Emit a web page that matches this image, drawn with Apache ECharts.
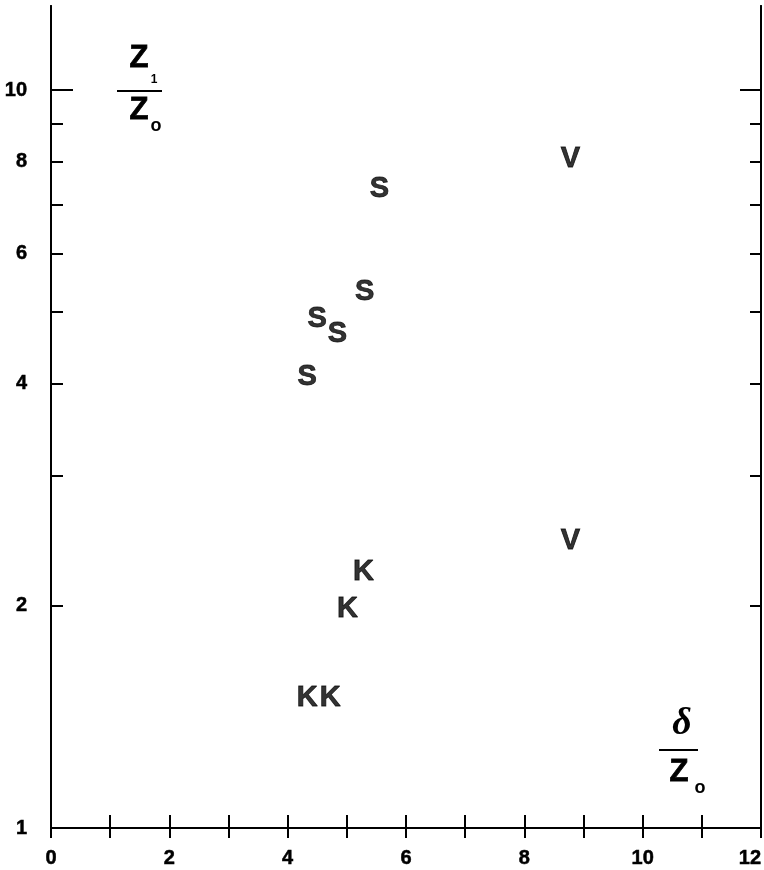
<!DOCTYPE html>
<html>
<head>
<meta charset="utf-8">
<script src="https://cdn.jsdelivr.net/npm/echarts@6/dist/echarts.min.js"></script>
<style>
  html, body { margin: 0; padding: 0; background: #fff; }
  #chart { width: 764px; height: 870px; }
</style>
</head>
<body>
<div id="chart"></div>
<script>
// points (x = delta/Z0, y = Z1/Z0)
const sX = [5.55, 5.30, 4.50, 4.84, 4.33];
const sY = [7.34, 5.32, 4.89, 4.67, 4.08];
const kX = [5.28, 5.01, 4.33, 4.72];
const kY = [2.22, 1.98, 1.50, 1.50];
const vX = [8.78, 8.78];
const vY = [8.06, 2.45];

const yTickVals = [2, 3, 4, 5, 6, 7, 8, 9];
const yLabelVals = [1, 2, 4, 6, 8, 10];
const yMax = 13;

const lg = v => Math.log10(v);
const font = "'Liberation Sans', Arial, sans-serif";

function pts(xs, ys) {
  return xs.map((x, i) => [x, lg(ys[i])]);
}

function letterSeries(letter, xs, ys) {
  return {
    type: 'scatter',
    data: pts(xs, ys),
    symbol: 'circle',
    symbolSize: 1,
    itemStyle: { color: 'rgba(0,0,0,0)' },
    label: {
      show: true,
      position: 'inside',
      formatter: letter,
      color: '#000',
      textBorderColor: '#000',
      textBorderWidth: 0.8,
      fontFamily: font,
      fontWeight: 'bold',
      fontSize: 29
    },
    silent: true
  };
}

const chart = echarts.init(document.getElementById('chart'));

const lineStyle = { color: '#000', width: 2 };
const tickStyle = { color: '#000', width: 2 };
const tickFont = {
  color: '#000',
  textBorderColor: '#000',
  textBorderWidth: 0.5,
  fontFamily: font,
  fontWeight: 'bold',
  fontSize: 20
};

const yBase = {
  type: 'value',
  min: 0,
  max: lg(yMax),
  splitLine: { show: false },
  axisLine: { show: true, lineStyle: lineStyle }
};

chart.setOption({
  animation: false,
  backgroundColor: '#fff',
  grid: { left: 51, top: 6, right: 3, bottom: 42, outerBoundsMode: 'none', containLabel: false },
  xAxis: [{
    type: 'value',
    min: 0,
    max: 12,
    interval: 1,
    position: 'bottom',
    splitLine: { show: false },
    axisLine: { lineStyle: lineStyle },
    axisTick: { inside: true, length: 13, lineStyle: tickStyle },
    axisLabel: Object.assign({
      margin: 20,
      alignMaxLabel: 'right',
      formatter: v => (v % 2 === 0 ? String(v) : '')
    }, tickFont)
  }, {
    type: 'value',
    min: 0,
    max: 12,
    interval: 1,
    position: 'top',
    splitLine: { show: false },
    axisLine: { lineStyle: lineStyle },
    axisTick: { inside: true, length: 10, lineStyle: tickStyle },
    axisLabel: { show: false }
  }],
  yAxis: [Object.assign({}, yBase, {
    position: 'left',
    axisTick: { inside: true, length: 12, customValues: yTickVals.map(lg), lineStyle: tickStyle },
    axisLabel: Object.assign({
      customValues: yLabelVals.map(lg),
      margin: 24,
      formatter: v => String(Math.round(Math.pow(10, v)))
    }, tickFont)
  }), Object.assign({}, yBase, {
    position: 'left',
    axisTick: { inside: true, length: 22, customValues: [lg(10)], lineStyle: tickStyle },
    axisLabel: { show: false }
  }), Object.assign({}, yBase, {
    position: 'right',
    axisTick: { inside: true, length: 11, customValues: yTickVals.map(lg), lineStyle: tickStyle },
    axisLabel: { show: false }
  }), Object.assign({}, yBase, {
    position: 'right',
    axisTick: { inside: true, length: 21, customValues: [lg(10)], lineStyle: tickStyle },
    axisLabel: { show: false }
  })],
  graphic: [
    { type: 'text', x: 139, y: 58, style: { text: 'Z', font: 'bold 31px ' + font, fill: '#000', stroke: '#000', lineWidth: 0.8, align: 'center', verticalAlign: 'middle' } },
    { type: 'text', x: 154, y: 80, style: { text: '1', font: 'bold 12px ' + font, fill: '#000', align: 'center', verticalAlign: 'middle' } },
    { type: 'line', shape: { x1: 117, y1: 91, x2: 162, y2: 91 }, style: { stroke: '#000', lineWidth: 2 } },
    { type: 'text', x: 139, y: 110, style: { text: 'Z', font: 'bold 31px ' + font, fill: '#000', stroke: '#000', lineWidth: 0.8, align: 'center', verticalAlign: 'middle' } },
    { type: 'text', x: 156, y: 126, style: { text: 'o', font: 'bold 18px ' + font, fill: '#000', align: 'center', verticalAlign: 'middle' } },

    { type: 'text', x: 682, y: 724, style: { text: 'δ', font: 'italic bold 38px "Liberation Serif", serif', fill: '#000', align: 'center', verticalAlign: 'middle' } },
    { type: 'line', shape: { x1: 659, y1: 750, x2: 698, y2: 750 }, style: { stroke: '#000', lineWidth: 2 } },
    { type: 'text', x: 679, y: 772, style: { text: 'Z', font: 'bold 31px ' + font, fill: '#000', stroke: '#000', lineWidth: 0.8, align: 'center', verticalAlign: 'middle' } },
    { type: 'text', x: 700, y: 788, style: { text: 'o', font: 'bold 18px ' + font, fill: '#000', align: 'center', verticalAlign: 'middle' } }
  ],
  series: [
    letterSeries('S', sX, sY),
    letterSeries('K', kX, kY),
    letterSeries('V', vX, vY)
  ]
});
</script>
</body>
</html>
